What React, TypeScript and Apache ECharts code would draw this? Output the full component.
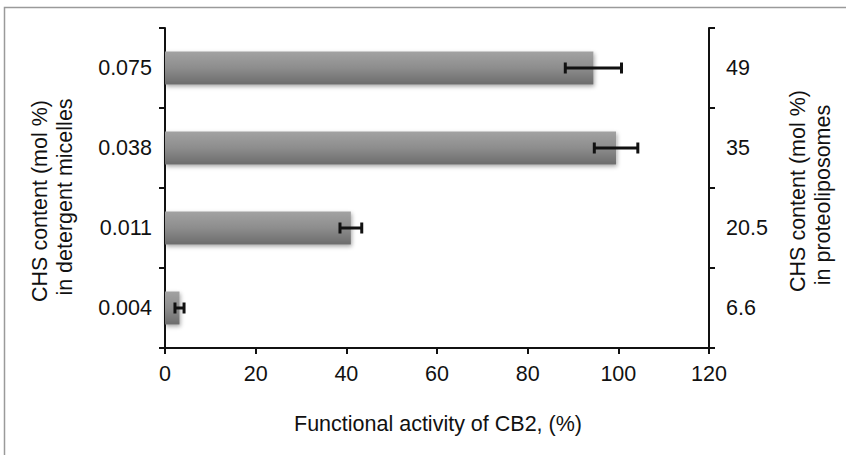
import React, { useEffect, useRef } from "react";
import * as echarts from "echarts";

const categories = ["0.004", "0.011", "0.038", "0.075"];
const rightLabels = ["6.6", "20.5", "35", "49"];
const activity = [3.2, 41, 99.5, 94.5];
const errors = [1, 2.4, 4.8, 6.2];
const xTicks = { min: 0, max: 120, interval: 20 };
const xName = "Functional activity of CB2, (%)";
const leftName = ["CHS content (mol %)", "in detergent micelles"];
const rightName = ["CHS content (mol %)", "in proteoliposomes"];

const FONT = '"Liberation Sans", Arial, sans-serif';
const FS = 21.5;

export default function App() {
  const ref = useRef<HTMLDivElement>(null);
  useEffect(() => {
    if (!ref.current) return;
    const chart = echarts.init(ref.current, null, { renderer: "svg" });
    const axisLine = { show: true, lineStyle: { color: "#111", width: 2 } };
    const axisTick = { show: true, inside: false, length: 6, lineStyle: { color: "#111", width: 2 } };
    const errData = activity.map((v, i) => [v, i, errors[i]]);
    const txt = (text: string, x: number, y: number, rot: number) => ({
      type: "text",
      x,
      y,
      rotation: rot,
      style: { text, fontSize: FS, fill: "#111", align: "center", verticalAlign: "middle", fontFamily: FONT },
    });
    chart.setOption({
      animation: false,
      backgroundColor: "#fff",
      textStyle: { fontFamily: FONT },
      grid: { left: 165, right: 137, top: 28, bottom: 107, containLabel: false, outerBoundsMode: "none" },
      xAxis: {
        type: "value",
        min: xTicks.min,
        max: xTicks.max,
        interval: xTicks.interval,
        axisLine,
        axisTick,
        splitLine: { show: false },
        axisLabel: { color: "#111", fontSize: FS, margin: 15, fontFamily: FONT },
      },
      yAxis: [
        {
          type: "category",
          data: categories,
          position: "left",
          axisLine,
          axisTick,
          axisLabel: { color: "#111", fontSize: FS, margin: 13, fontFamily: FONT },
        },
        {
          type: "category",
          data: rightLabels,
          position: "right",
          axisLine,
          axisTick,
          axisLabel: { color: "#111", fontSize: FS, margin: 17, fontFamily: FONT },
        },
      ],
      series: [
        {
          type: "bar",
          data: activity,
          yAxisIndex: 0,
          barWidth: 33,
          itemStyle: {
            color: new echarts.graphic.LinearGradient(0, 0, 0, 1, [
              { offset: 0, color: "#a2a2a2" },
              { offset: 0.5, color: "#8d8d8d" },
              { offset: 1, color: "#6c6c6c" },
            ]),
            shadowBlur: 4,
            shadowColor: "rgba(0,0,0,0.35)",
            shadowOffsetX: 1,
            shadowOffsetY: 2,
          },
        },
        {
          type: "custom",
          yAxisIndex: 0,
          data: errData,
          z: 10,
          renderItem: (params: any, api: any) => {
            const v = api.value(0);
            const idx = api.value(1);
            const e = api.value(2);
            const lo = api.coord([v - e, idx]);
            const hi = api.coord([v + e, idx]);
            const h = 5.5;
            const style = { stroke: "#111", lineWidth: 3 };
            return {
              type: "group",
              children: [
                { type: "line", shape: { x1: lo[0], y1: lo[1], x2: hi[0], y2: hi[1] }, style },
                { type: "line", shape: { x1: lo[0], y1: lo[1] - h, x2: lo[0], y2: lo[1] + h }, style },
                { type: "line", shape: { x1: hi[0], y1: hi[1] - h, x2: hi[0], y2: hi[1] + h }, style },
              ],
            };
          },
        },
      ],
      graphic: [
        {
          type: "rect",
          shape: { x: 4.5, y: 7.5, width: 900, height: 600 },
          style: { fill: "none", stroke: "#9a9a9a", lineWidth: 1.5 },
          silent: true,
        },
        txt(xName, 438, 424, 0),
        txt(leftName[0], 40, 201, Math.PI / 2),
        txt(leftName[1], 65, 197, Math.PI / 2),
        txt(rightName[0], 798, 191, Math.PI / 2),
        txt(rightName[1], 823, 195, Math.PI / 2),
      ],
    });
    return () => chart.dispose();
  }, []);
  return (
    <div
      ref={ref}
      style={{ position: "fixed", left: 0, top: 0, width: 846, height: 455, background: "#fff" }}
    />
  );
}
